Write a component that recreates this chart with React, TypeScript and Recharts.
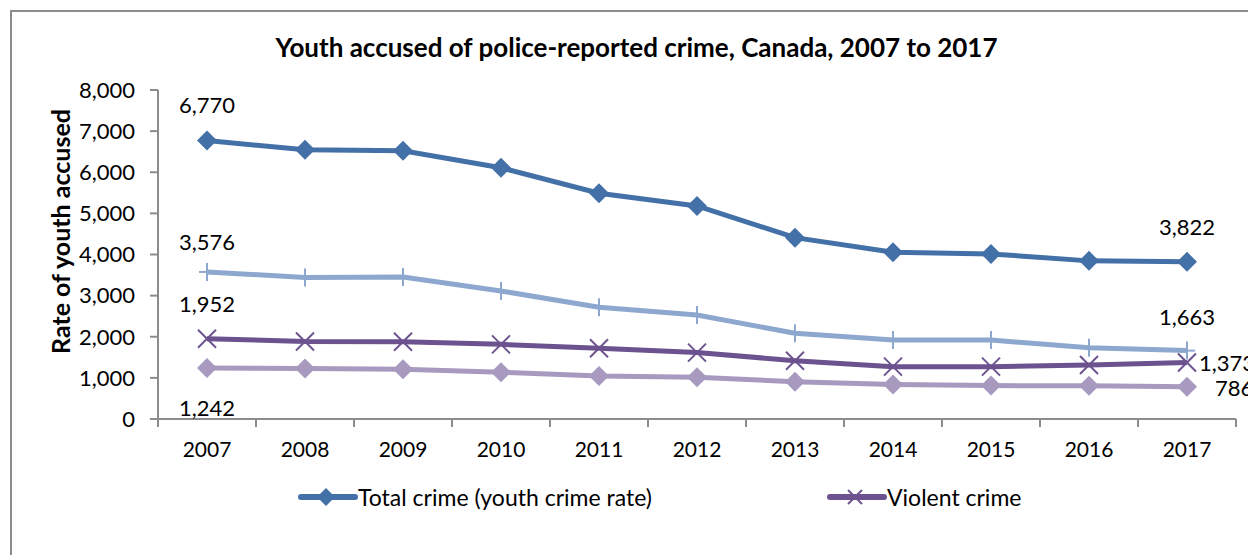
import React from 'react';
import {LineChart, Line, XAxis, YAxis, Legend, LabelList, Label} from 'recharts';

const years = ['2007', '2008', '2009', '2010', '2011', '2012', '2013', '2014', '2015', '2016', '2017'];
const totalCrime = [6770, 6545, 6520, 6110, 5490, 5180, 4410, 4055, 4015, 3845, 3822];
const propertyCrime = [3576, 3440, 3455, 3114, 2718, 2530, 2085, 1920, 1920, 1735, 1663];
const violentCrime = [1952, 1885, 1880, 1815, 1720, 1615, 1418, 1273, 1273, 1314, 1373];
const otherCrime = [1242, 1230, 1208, 1136, 1046, 1015, 908, 840, 812, 808, 786];
const yTicks = [0, 1000, 2000, 3000, 4000, 5000, 6000, 7000, 8000];

const data = years.map((year, i) => ({
    year,
    total: totalCrime[i],
    property: propertyCrime[i],
    violent: violentCrime[i],
    other: otherCrime[i],
}));

const FONT = 'Lato, "Open Sans", sans-serif';
const DARK_BLUE = '#4470A8';
const LIGHT_BLUE = '#8DA7CE';
const PURPLE = '#6C528E';
const LIGHT_PURPLE = '#A899BF';
const AXIS = '#8C8C8C';

const fmt = (v: number) => v.toLocaleString('en-US');

const diamond = (color: string, r: number) => (props: any) => {
    const {cx, cy, key} = props;
    if (cx == null || cy == null) return <g key={key} />;
    return <path key={key} d={`M${cx},${cy - r}L${cx + r},${cy}L${cx},${cy + r}L${cx - r},${cy}Z`} fill={color} />;
};

const plus = (color: string) => (props: any) => {
    const {cx, cy, key} = props;
    if (cx == null || cy == null) return <g key={key} />;
    return (
        <g key={key} stroke={color} strokeWidth={2}>
            <line x1={cx - 8} y1={cy} x2={cx + 8} y2={cy} />
            <line x1={cx} y1={cy - 9} x2={cx} y2={cy + 9} />
        </g>
    );
};

const cross = (color: string) => (props: any) => {
    const {cx, cy, key} = props;
    if (cx == null || cy == null) return <g key={key} />;
    return (
        <g key={key} stroke={color} strokeWidth={2}>
            <line x1={cx - 9} y1={cy - 9} x2={cx + 9} y2={cy + 9} />
            <line x1={cx - 9} y1={cy + 9} x2={cx + 9} y2={cy - 9} />
        </g>
    );
};

// year label plus tick marks between categories (Excel style)
const YearTick = (props: any) => {
    const {x, y, payload, index} = props;
    const half = payload.offset || 0;
    const last = index === years.length - 1;
    return (
        <g>
            <line x1={x - half} y1={y} x2={x - half} y2={y + 8} stroke={AXIS} strokeWidth={2} />
            {last && <line x1={x + half} y1={y} x2={x + half} y2={y + 8} stroke={AXIS} strokeWidth={2} />}
            <text x={x} y={y + 29} textAnchor="middle" dominantBaseline="central"
                  fontSize={21} fontFamily={FONT} fill="#000">
                {payload.value}
            </text>
        </g>
    );
};

// offsets for the first and last point labels: [dx, dy, anchor]
type Spot = [number, number, string];
const endLabel = (first: Spot, last: Spot) => (props: any) => {
    const {x, y, value, index} = props;
    const spot = index === 0 ? first : index === years.length - 1 ? last : null;
    if (!spot) return null;
    return (
        <text x={x + spot[0]} y={y + spot[1]} textAnchor={spot[2] as any} dominantBaseline="central"
              fontSize={22} fontFamily={FONT} fill="#000">
            {fmt(value)}
        </text>
    );
};

const LegendIcon = ({color, marker}: {color: string; marker: 'diamond' | 'cross'}) => (
    <svg width={60} height={24} style={{display: 'block'}}>
        <line x1={3} y1={12} x2={57} y2={12} stroke={color} strokeWidth={6} strokeLinecap="round" />
        {marker === 'diamond'
            ? <path d="M28,3L37,12L28,21L19,12Z" fill={color} />
            : <g stroke={color} strokeWidth={2}>
                <line x1={21} y1={5} x2={35} y2={19} />
                <line x1={21} y1={19} x2={35} y2={5} />
            </g>}
    </svg>
);

const CustomLegend = () => (
    <div style={{display: 'flex', alignItems: 'center', height: 30, fontFamily: FONT, fontSize: 23, color: '#000'}}>
        <div style={{display: 'flex', alignItems: 'center', width: 529}}>
            <LegendIcon color={DARK_BLUE} marker="diamond" />
            <span>Total crime (youth crime rate)</span>
        </div>
        <div style={{display: 'flex', alignItems: 'center'}}>
            <LegendIcon color={PURPLE} marker="cross" />
            <span>Violent crime</span>
        </div>
    </div>
);

export default function App() {
    return (
        <div style={{position: 'absolute', left: 0, top: 0, width: 1248, height: 555, overflow: 'hidden', background: '#fff'}}>
            <div style={{position: 'absolute', left: 10, top: 10, width: 1300, height: 600, border: `2px solid ${AXIS}`}} />
            <div style={{position: 'absolute', left: 0, top: 31, width: 1273, textAlign: 'center',
                fontFamily: FONT, fontWeight: 700, fontSize: 26, color: '#000'}}>
                Youth accused of police-reported crime, Canada, 2007 to 2017
            </div>
            <div style={{position: 'absolute', left: 0, top: 0}}>
                <LineChart width={1248} height={555} data={data} margin={{top: 90, right: 12, left: 0, bottom: 66}}>
                    <XAxis dataKey="year" scale="band" height={40} tickSize={0} tickMargin={0}
                           axisLine={{stroke: AXIS, strokeWidth: 2}} tickLine={false} interval={0}
                           tick={<YearTick />} />
                    <YAxis width={158} domain={[0, 8000]} ticks={yTicks} tickFormatter={fmt}
                           tickSize={8} tickMargin={15} tickLine={{stroke: AXIS, strokeWidth: 2}}
                           axisLine={{stroke: AXIS, strokeWidth: 2}}
                           tick={{fill: '#000', fontSize: 22, fontFamily: FONT}}>
                        <Label content={({viewBox}: any) => (
                            <text x={0} y={0} transform={`translate(${viewBox.x + 60},${viewBox.y + viewBox.height / 2 - 23}) rotate(-90)`}
                                  textAnchor="middle" dominantBaseline="central" fontSize={25} fontWeight={700}
                                  fontFamily={FONT} fill="#000">
                                Rate of youth accused
                            </text>
                        )} />
                    </YAxis>
                    <Legend verticalAlign="bottom" content={<CustomLegend />} wrapperStyle={{left: 298, top: 482}} />
                    <Line dataKey="other" name="Other crime" stroke={LIGHT_PURPLE} strokeWidth={5}
                          dot={diamond(LIGHT_PURPLE, 10)} activeDot={false} legendType="none" isAnimationActive={false}>
                        <LabelList dataKey="other" content={endLabel([0, 40, 'middle'], [28, 1, 'start'])} />
                    </Line>
                    <Line dataKey="violent" name="Violent crime" stroke={PURPLE} strokeWidth={5}
                          dot={cross(PURPLE)} activeDot={false} isAnimationActive={false}>
                        <LabelList dataKey="violent" content={endLabel([0, -35, 'middle'], [12, 0, 'start'])} />
                    </Line>
                    <Line dataKey="property" name="Property crime" stroke={LIGHT_BLUE} strokeWidth={5}
                          dot={plus(LIGHT_BLUE)} activeDot={false} legendType="none" isAnimationActive={false}>
                        <LabelList dataKey="property" content={endLabel([0, -30, 'middle'], [0, -34, 'middle'])} />
                    </Line>
                    <Line dataKey="total" name="Total crime (youth crime rate)" stroke={DARK_BLUE} strokeWidth={5}
                          dot={diamond(DARK_BLUE, 10)} activeDot={false} isAnimationActive={false}>
                        <LabelList dataKey="total" content={endLabel([0, -36, 'middle'], [0, -35, 'middle'])} />
                    </Line>
                </LineChart>
            </div>
        </div>
    );
}
